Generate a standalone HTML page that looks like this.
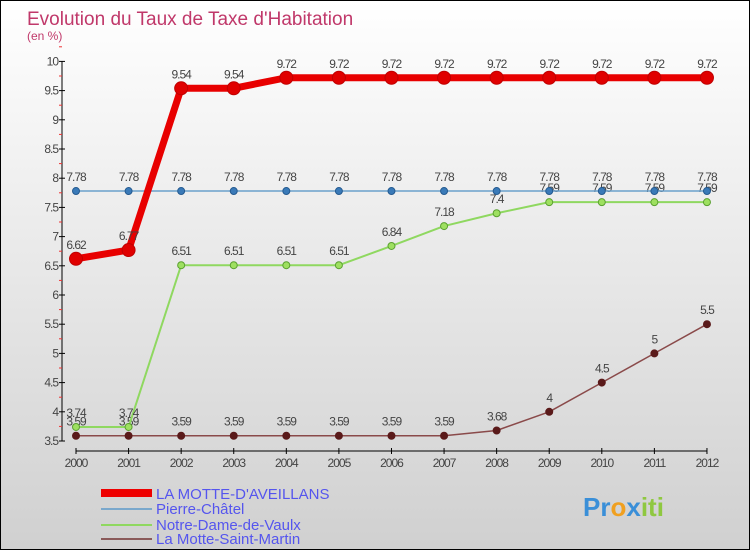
<!DOCTYPE html>
<html><head><meta charset="utf-8"><style>
body{margin:0}
#c{width:748px;height:548px;border:1px solid #000;background:linear-gradient(#fff,#d0d0d0);position:relative;font-family:"Liberation Sans",sans-serif}
</style></head><body>
<div id="c">
<svg id="s" width="748" height="548" xmlns="http://www.w3.org/2000/svg" font-family="Liberation Sans, sans-serif">
<text x="26" y="24" font-size="19" fill="#c0386a">Evolution du Taux de Taxe d'Habitation</text>
<text x="26" y="39" font-size="12" fill="#c0386a">(en %)</text>
<g id="axes"></g><g id="series"></g>
<g>
<rect x="100" y="488" width="51" height="8" fill="#e00"/>
<text x="155" y="498" font-size="15" fill="#5555ee">LA MOTTE-D'AVEILLANS</text>
<rect x="100" y="507" width="51" height="2" fill="#7aa8cc"/>
<text x="155" y="513" font-size="15" fill="#5555ee">Pierre-Châtel</text>
<rect x="100" y="523" width="51" height="2" fill="#8fd860"/>
<text x="155" y="529" font-size="15" fill="#5555ee">Notre-Dame-de-Vaulx</text>
<rect x="100" y="537" width="51" height="2" fill="#8a5a5a"/>
<text x="155" y="543" font-size="15" fill="#5555ee">La Motte-Saint-Martin</text>
</g>
<g font-size="26" font-weight="bold">
<text x="582" y="515"><tspan fill="#3a8fd8">Pr</tspan><tspan fill="#f0a020">o</tspan><tspan fill="#3a8fd8">x</tspan><tspan fill="#8fc840">iti</tspan></text>
</g>
</svg>
</div>
<script>
const years=[2000,2001,2002,2003,2004,2005,2006,2007,2008,2009,2010,2011,2012];
const motteAveillans=[6.62,6.77,9.54,9.54,9.72,9.72,9.72,9.72,9.72,9.72,9.72,9.72,9.72];
const pierreChatel=[7.78,7.78,7.78,7.78,7.78,7.78,7.78,7.78,7.78,7.78,7.78,7.78,7.78];
const notreDame=[3.74,3.74,6.51,6.51,6.51,6.51,6.84,7.18,7.4,7.59,7.59,7.59,7.59];
const motteSaintMartin=[3.59,3.59,3.59,3.59,3.59,3.59,3.59,3.59,3.68,4,4.5,5,5.5];
const yTicks=[3.5,4,4.5,5,5.5,6,6.5,7,7.5,8,8.5,9,9.5,10];
const NS="http://www.w3.org/2000/svg";
const xs=i=>75+i*52.58;
const ys=v=>440-(v-3.5)*58.4;
function mk(tag,attrs,parent){const e=document.createElementNS(NS,tag);for(const k in attrs)e.setAttribute(k,attrs[k]);parent.appendChild(e);return e;}
const ax=document.getElementById('axes');
const ya=mk('line',{x1:61,x2:61,y1:ys(10),y2:ys(3.5),stroke:'#000'},ax);


yTicks.forEach(t=>{
 const l=mk('line',{x1:58,x2:64,y1:ys(t),y2:ys(t),stroke:'#000'},ax);
 
 
 const m=mk('line',{x1:58,x2:61,y1:ys(t+0.25),y2:ys(t+0.25),stroke:'#e33'},ax);
 
 
 const tx=mk('text',{x:57,y:ys(t)+4,'font-size':12,'text-anchor':'end',fill:'#444','letter-spacing':'-1'},ax);
 tx.textContent=t;
 
 
});
const xa=mk('line',{x1:xs(0),x2:xs(12),y1:450,y2:450,stroke:'#000'},ax);


years.forEach((y,i)=>{
 const l=mk('line',{x1:xs(i),x2:xs(i),y1:447,y2:453,stroke:'#000'},ax);
 
 
 const tx=mk('text',{x:xs(i),y:466,'font-size':12,'text-anchor':'middle',fill:'#444','letter-spacing':'-1'},ax);
 tx.textContent=y;
 
 
});
const sg=document.getElementById('series');
function series(vals,name,color,w,dot,r,dotStroke){
 const g=mk('g',{},sg);
 
 
 const p=mk('polyline',{points:vals.map((v,i)=>xs(i)+','+ys(v)).join(' '),fill:'none',stroke:color,'stroke-width':w,'stroke-linejoin':'round'},g);
 
 
 vals.forEach((v,i)=>{
  const c=mk('circle',{cx:xs(i),cy:ys(v),r:r,fill:dot,stroke:dotStroke,'stroke-width':1},g);
  
  
  const t=mk('text',{x:xs(i),y:ys(v)-10,'font-size':12,'text-anchor':'middle',fill:'#444','letter-spacing':'-1'},g);
  t.textContent=v;
  
  
 });
}
series(motteSaintMartin,'motte-saint-martin','#8a4a4a',1.5,'#5a1a1a',3.5,'#5a1a1a');
series(notreDame,'notre-dame','#8fd860',2,'#9ee060',3.5,'#5aa030');
series(pierreChatel,'pierre-chatel','#6aa0cc',1.5,'#3a7ab8',3.5,'#245a90');
series(motteAveillans,'motte-aveillans','#e80000',7,'#e00000',6.5,'#c00000');
</script>
</body></html>
